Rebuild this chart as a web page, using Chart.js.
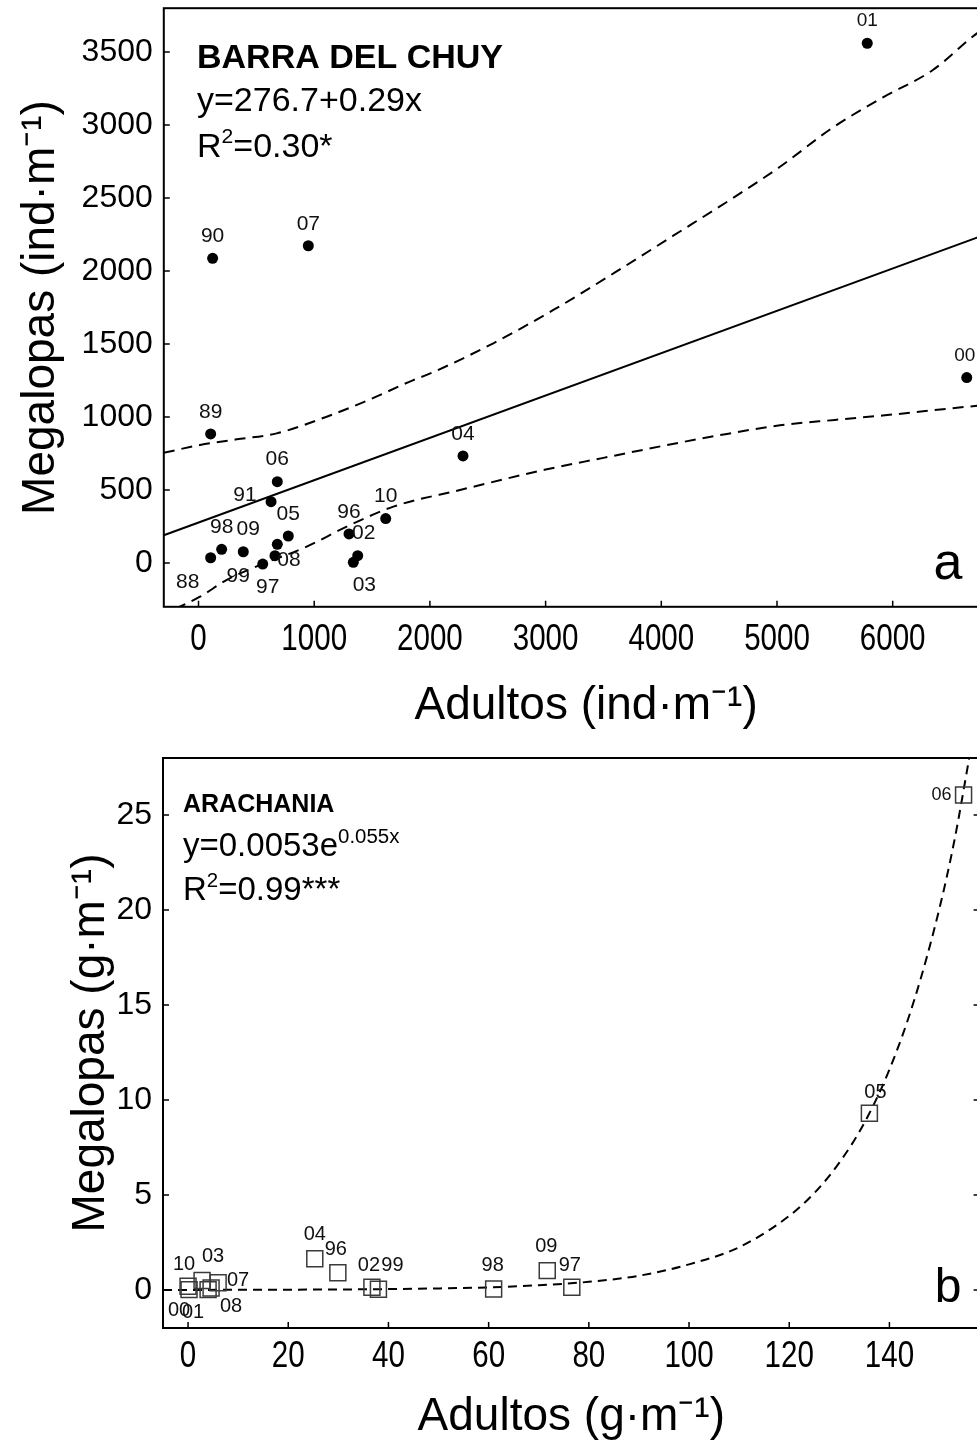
<!DOCTYPE html>
<html>
<head>
<meta charset="utf-8">
<script src="https://cdn.jsdelivr.net/npm/chart.js@4.4.1/dist/chart.umd.min.js"></script>
<style>
  html, body { margin: 0; padding: 0; background: #fff; overflow: hidden; width: 977px; height: 1445px; }
  .panel { position: absolute; left: 0; }
</style>
</head>
<body>
<canvas id="c1" class="panel" style="top:0" width="1040" height="740"></canvas>
<canvas id="c2" class="panel" style="top:740px" width="1040" height="705"></canvas>
<script>
// ---- panel a: Barra del Chuy (ind/m) ----
const yearsA = ['88', '89', '90', '91', '96', '97', '98', '99', '00', '01', '02', '03', '04', '05', '06', '07', '08', '09', '10'];
const adultosA = [105, 105, 122, 627, 1301, 555, 200, 681, 6640, 5780, 1376, 1338, 2286, 776, 681, 949, 661, 387, 1618];
const megalopasA = [36, 884, 2087, 420, 199, -7, 94, 128, 1270, 3560, 50, 5, 733, 185, 557, 2173, 50, 77, 304];

// regression line y=276.7+0.29x and its confidence bands
const fitAx = [-300, 7000];
const fitAy = [190, 2307];
const upperAx = [-300, 13, 330, 676, 1108, 1480, 1857, 1972, 2548, 3067, 3600, 4100, 4600, 5026, 5480, 5912, 6344, 6731, 7000];
const upperAy = [755, 808, 847, 888, 1002, 1120, 1253, 1288, 1505, 1733, 1990, 2240, 2490, 2714, 2981, 3188, 3375, 3629, 3760];
const lowerAx = [-200, 13, 244, 532, 935, 1281, 1684, 2260, 3000, 3500, 4000, 4500, 5026, 5500, 5912, 6731, 7000];
const lowerAy = [-315, -231, -116, -14, 112, 249, 386, 500, 640, 720, 800, 875, 943, 980, 1010, 1077, 1095];

const xTicksA = [0, 1000, 2000, 3000, 4000, 5000, 6000];
const yTicksA = [0, 500, 1000, 1500, 2000, 2500, 3000, 3500];

// ---- panel b: Arachania (g/m) ----
const yearsB = ['96', '97', '98', '99', '00', '01', '02', '03', '04', '05', '06', '07', '08', '09', '10'];
const adultosB = [29.9, 76.6, 61.0, 38.0, 0.2, 4.0, 36.7, 2.8, 25.3, 136, 154.8, 6.0, 4.6, 71.7, 0.0];
const megalopasB = [0.91, 0.14, 0.05, 0.04, 0.02, 0.02, 0.14, 0.5, 1.65, 9.3, 26.05, 0.38, 0.1, 1.02, 0.2];

// y=0.0053e^(0.055x) curve as drawn
const curveBx = [-5, 0, 10, 20, 30, 40, 50, 60, 70, 80, 90, 100, 110, 120, 125, 130, 135, 140, 145, 150, 153, 156];
const curveBy = [0.004, 0.005, 0.009, 0.016, 0.028, 0.048, 0.083, 0.14, 0.25, 0.43, 0.75, 1.35, 2.25, 3.9, 5.1, 6.7, 8.8, 11.6, 15.3, 20.1, 23.7, 28.1];

const xTicksB = [0, 20, 40, 60, 80, 100, 120, 140];
const yTicksB = [0, 5, 10, 15, 20, 25];

const FONT = '"Liberation Sans", Arial, sans-serif';
Chart.defaults.font.family = FONT;
Chart.defaults.color = '#000';

const pts = (xs, ys) => xs.map((x, i) => ({ x: x, y: ys[i] }));

function drawRich(ctx, parts, x, y, size, bold) {
  let cx = x;
  parts.forEach(p => {
    const s = p.sup ? size * 0.62 : size;
    ctx.font = (bold ? 'bold ' : '') + s + 'px ' + FONT;
    ctx.fillText(p.t, cx, p.sup ? y - size * 0.4 : y);
    cx += ctx.measureText(p.t).width;
  });
}

// point labels (year of each sample)
const pointLabels = {
  id: 'pointLabels',
  afterDatasetsDraw(chart, args, opts) {
    const ctx = chart.ctx;
    const meta = chart.getDatasetMeta(0);
    ctx.save();
    ctx.fillStyle = '#111';
    ctx.textAlign = 'center';
    ctx.textBaseline = 'middle';
    meta.data.forEach((el, i) => {
      const name = opts.names[i];
      const off = opts.offsets[name] || [0, -22];
      ctx.font = (off[2] || opts.size) + 'px ' + FONT;
      ctx.fillText(name, el.x + off[0], el.y + off[1]);
    });
    ctx.restore();
  }
};

// box, inward ticks, condensed x tick labels, text block and panel letter
const frame = {
  id: 'frame',
  afterDraw(chart, args, opts) {
    const { ctx, chartArea: a, scales: { x, y } } = chart;
    ctx.save();
    ctx.strokeStyle = '#000';
    ctx.lineWidth = 2;
    ctx.strokeRect(a.left, a.top, a.right - a.left, a.bottom - a.top);
    ctx.lineWidth = 1.5;
    ctx.beginPath();
    x.ticks.forEach(t => {
      const px = x.getPixelForValue(t.value);
      ctx.moveTo(px, a.bottom); ctx.lineTo(px, a.bottom - 6);
    });
    y.ticks.forEach(t => {
      const py = y.getPixelForValue(t.value);
      ctx.moveTo(a.left, py); ctx.lineTo(a.left + 6, py);
      ctx.moveTo(a.right, py); ctx.lineTo(a.right - 6, py);
    });
    ctx.stroke();

    ctx.fillStyle = '#000';
    ctx.textAlign = 'center';
    ctx.textBaseline = 'middle';
    ctx.font = '36px ' + FONT;
    x.ticks.forEach(t => {
      ctx.save();
      ctx.translate(x.getPixelForValue(t.value), a.bottom + opts.tickGap);
      ctx.scale(0.82, 1);
      ctx.fillText(String(t.value), 0, 0);
      ctx.restore();
    });

    ctx.textAlign = 'left';
    ctx.textBaseline = 'alphabetic';
    opts.lines.forEach(l => drawRich(ctx, l.parts, opts.x, l.y, l.bold ? opts.boldSize : opts.size, l.bold));

    ctx.textAlign = 'center';
    ctx.font = opts.letterSize + 'px ' + FONT;
    ctx.fillText(opts.letter, opts.letterX, opts.letterY);
    ctx.restore();
  }
};

function axes(cfg) {
  return {
    x: {
      type: 'linear', min: cfg.xmin, max: cfg.xmax,
      afterBuildTicks: s => { s.ticks = cfg.xTicks.map(v => ({ value: v })); },
      afterFit: s => { s.height = cfg.xHeight; s.paddingLeft = 0; s.paddingRight = 0; },
      grid: { display: false, drawTicks: false },
      border: { display: false },
      ticks: { display: false },
      title: { display: true, text: cfg.xTitle, color: '#000', font: { size: 46 },
        padding: { top: 0, bottom: cfg.xTitlePad } }
    },
    y: {
      type: 'linear', min: cfg.ymin, max: cfg.ymax,
      afterBuildTicks: s => { s.ticks = cfg.yTicks.map(v => ({ value: v })); },
      afterFit: s => { s.width = cfg.yWidth; s.paddingTop = 0; s.paddingBottom = 0; },
      grid: { display: false, drawTicks: false },
      border: { display: false },
      ticks: { autoSkip: false, padding: 11, color: '#000', font: { size: 32 }, callback: v => String(v) },
      title: { display: true, text: cfg.yTitle, color: '#000', font: { size: 46 },
        padding: { top: cfg.yTitlePad, bottom: 0 } }
    }
  };
}

const dashed = (data, dash) => ({
  data: data, showLine: true, pointRadius: 0, borderColor: '#000', borderWidth: 2,
  borderDash: dash, cubicInterpolationMode: 'monotone', fill: false
});

new Chart(document.getElementById('c1'), {
  type: 'scatter',
  data: {
    datasets: [
      { data: pts(adultosA, megalopasA), pointStyle: 'circle', pointRadius: 5.5,
        backgroundColor: '#000', borderColor: '#000', borderWidth: 0 },
      { data: pts(fitAx, fitAy), showLine: true, pointRadius: 0, borderColor: '#000', borderWidth: 2 },
      dashed(pts(upperAx, upperAy), [11, 7]),
      dashed(pts(lowerAx, lowerAy), [11, 7])
    ]
  },
  options: {
    responsive: false, animation: false, devicePixelRatio: 1,
    layout: { padding: { top: 8.2, right: 31.6, left: 0, bottom: 0 } },
    plugins: {
      legend: { display: false }, tooltip: { enabled: false },
      pointLabels: {
        names: yearsA, size: 21,
        offsets: {
          '88': [-23, 24], '91': [-26, -6], '99': [-39, 32], '08': [14, 5], '97': [5, 23],
          '03': [11, 23], '02': [6, -22], '09': [5, -23], '01': [0, -22, 19], '00': [-2, -22, 19]
        }
      },
      frame: {
        x: 197, size: 34, boldSize: 34, tickGap: 33,
        lines: [
          { parts: [{ t: 'BARRA DEL CHUY' }], bold: true, y: 68 },
          { parts: [{ t: 'y=276.7+0.29x' }], y: 111 },
          { parts: [{ t: 'R' }, { t: '2', sup: true }, { t: '=0.30*' }], y: 157 }
        ],
        letter: 'a', letterX: 948, letterY: 579, letterSize: 52
      }
    },
    scales: axes({
      xmin: -300, xmax: 7000, ymin: -300, ymax: 3800, xTicks: xTicksA, yTicks: yTicksA,
      xHeight: 133.2, yWidth: 163.8, xTitlePad: 6, yTitlePad: 14,
      xTitle: 'Adultos (ind·m⁻¹)', yTitle: 'Megalopas (ind·m⁻¹)'
    })
  },
  plugins: [pointLabels, frame]
});

new Chart(document.getElementById('c2'), {
  type: 'scatter',
  data: {
    datasets: [
      { data: pts(adultosB, megalopasB), pointStyle: 'rect', pointRadius: 11.3,
        backgroundColor: 'rgba(0,0,0,0)', borderColor: '#3a3a3a', borderWidth: 1.5 },
      dashed(pts(curveBx, curveBy), [9, 6])
    ]
  },
  options: {
    responsive: false, animation: false, devicePixelRatio: 1,
    layout: { padding: { top: 18, right: 60.4, left: 0, bottom: 0 } },
    plugins: {
      legend: { display: false }, tooltip: { enabled: false },
      pointLabels: {
        names: yearsB, size: 20,
        offsets: {
          '00': [-10, 21], '10': [-4, -22], '03': [11, -24], '07': [20, -2], '01': [-15, 23],
          '08': [20, 18], '04': [0, -24], '96': [-2, -23], '02': [-3, -22], '99': [14, -24],
          '98': [-1, -24], '09': [-1, -24], '97': [-2, -22], '05': [6, -21], '06': [-22, 0, 18]
        }
      },
      frame: {
        x: 183, size: 33, boldSize: 25, tickGap: 29,
        lines: [
          { parts: [{ t: 'ARACHANIA' }], bold: true, y: 72 },
          { parts: [{ t: 'y=0.0053e' }, { t: '0.055x', sup: true }], y: 116 },
          { parts: [{ t: 'R' }, { t: '2', sup: true }, { t: '=0.99***' }], y: 160 }
        ],
        letter: 'b', letterX: 948, letterY: 562, letterSize: 48
      }
    },
    scales: axes({
      xmin: -5, xmax: 158, ymin: -2, ymax: 28, xTicks: xTicksB, yTicks: yTicksB,
      xHeight: 117, yWidth: 163, xTitlePad: 0, yTitlePad: 64,
      xTitle: 'Adultos (g·m⁻¹)', yTitle: 'Megalopas (g·m⁻¹)'
    })
  },
  plugins: [pointLabels, frame]
});
</script>
</body>
</html>
